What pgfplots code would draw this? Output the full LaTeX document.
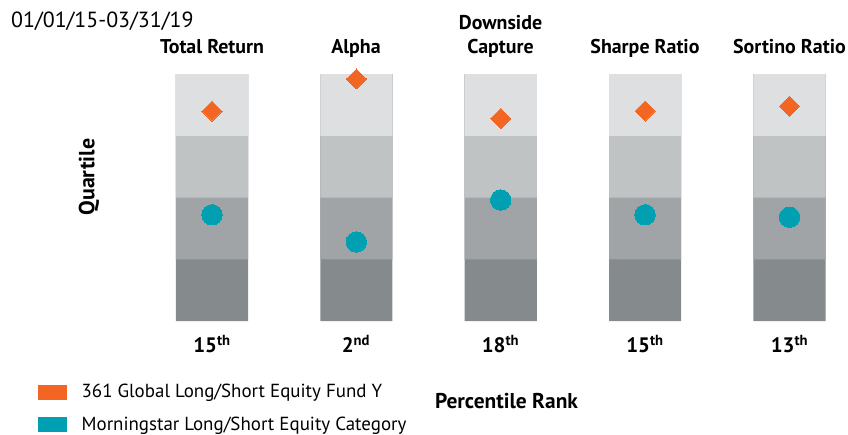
\documentclass[border=0pt]{standalone}
\usepackage{fontspec}
\setmainfont{PT Sans}
\usepackage{pgfplots}
\pgfplotsset{compat=1.18}
\definecolor{orangeF}{HTML}{F26522}
\definecolor{tealC}{HTML}{009FB1}
\definecolor{q1}{HTML}{DEDFE0}
\definecolor{q2}{HTML}{C0C3C4}
\definecolor{q3}{HTML}{A0A4A6}
\definecolor{q4}{HTML}{858B8D}
\begin{document}
\begin{tikzpicture}
\begin{axis}[
  at={(168.7bp,-321bp)}, anchor=south west,
  scale only axis, width=664.1bp, height=247bp,
  xmin=-0.3, xmax=4.3, ymin=0, ymax=100, y dir=reverse,
  axis lines=none, clip=false,
  legend style={draw=none, fill=none, at={(axis cs:-1.205,135.3)}, anchor=west,
    font=\fontsize{19}{21}\selectfont, row sep=14bp, inner sep=0pt,
    /tikz/every odd column/.append style={column sep=13bp}},
  legend cell align=left,
  legend image code/.code={\fill[#1] (0bp,-7bp) rectangle (28bp,7bp);},
]
\addplot[ybar, bar width=0.5, bar shift=0pt, fill=q4, draw=none, forget plot] coordinates {(0,100)(1,100)(2,100)(3,100)(4,100)};
\addplot[ybar, bar width=0.5, bar shift=0pt, fill=q3, draw=none, forget plot] coordinates {(0,75)(1,75)(2,75)(3,75)(4,75)};
\addplot[ybar, bar width=0.5, bar shift=0pt, fill=q2, draw=none, forget plot] coordinates {(0,50)(1,50)(2,50)(3,50)(4,50)};
\addplot[ybar, bar width=0.5, bar shift=0pt, fill=q1, draw=none, forget plot] coordinates {(0,25)(1,25)(2,25)(3,25)(4,25)};
\addplot[only marks, color=orangeF, mark=square*, mark size=7.1bp, mark options={rotate=45, fill=orangeF, draw=orangeF, line width=0pt}, fill=orangeF]
  coordinates {(0,15)(1,2)(2,18)(3,15)(4,13)};
\addlegendentry{361 Global Long/Short Equity Fund Y}
\addplot[only marks, color=tealC, mark=*, mark size=10.2bp, mark options={fill=tealC, draw=tealC, line width=0pt}, fill=tealC]
  coordinates {(0,57)(1,68)(2,51)(3,57)(4,58)};
\addlegendentry{Morningstar Long/Short Equity Category}
\end{axis}
\begin{scope}[x=1bp,y=-1bp]
\node[anchor=base west, inner sep=0pt, font=\fontsize{22}{24}\selectfont] at (11,27) {01/01/15-03/31/19};
\tikzset{hd/.style={anchor=base, inner sep=0pt, font=\fontsize{20}{22}\selectfont\bfseries, align=center}}
\node[hd] at (212,53) {Total Return};
\node[hd] at (356,53) {Alpha};
\node[hd] at (500.5,29) {Downside};
\node[hd] at (500.5,53) {Capture};
\node[hd] at (645,53) {Sharpe Ratio};
\node[hd] at (789.5,53) {Sortino Ratio};
\tikzset{rk/.style={anchor=base, inner sep=0pt, font=\fontsize{21}{23}\selectfont\bfseries}}
\node[rk] at (212,352.5) {15\textsuperscript{th}};
\node[rk] at (356,352.5) {2\textsuperscript{nd}};
\node[rk] at (500.5,352.5) {18\textsuperscript{th}};
\node[rk] at (645,352.5) {15\textsuperscript{th}};
\node[rk] at (789.5,352.5) {13\textsuperscript{th}};
\node[inner sep=0pt, font=\fontsize{21.5}{23}\selectfont\bfseries] at (506.5,401) {Percentile Rank};
\node[inner sep=0pt, rotate=90, font=\fontsize{22}{24}\selectfont\bfseries] at (89,177) {Quartile};
\end{scope}
\pgfresetboundingbox
\path[use as bounding box] (0bp,0bp) rectangle (848bp,-435bp);
\end{tikzpicture}
\end{document}
